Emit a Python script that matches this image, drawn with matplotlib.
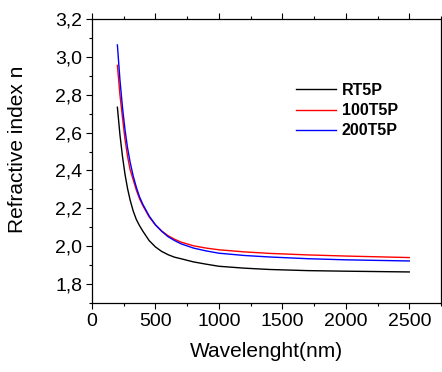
import matplotlib
matplotlib.use("Agg")
import matplotlib.pyplot as plt
from matplotlib.ticker import MultipleLocator, FuncFormatter

wavelength = [200, 220, 240, 260, 280, 300, 325, 350, 375, 400, 450, 500, 550, 600,
              650, 700, 800, 900, 1000, 1200, 1400, 1700, 2000, 2250, 2500]
n_rt5p = [2.734, 2.59, 2.475, 2.38, 2.305, 2.245, 2.185, 2.14, 2.108, 2.08, 2.03, 1.996,
          1.972, 1.955, 1.942, 1.934, 1.917, 1.905, 1.894, 1.884, 1.877, 1.871, 1.868,
          1.866, 1.864]
n_100t5p = [2.955, 2.80, 2.68, 2.565, 2.475, 2.405, 2.35, 2.295, 2.25, 2.215, 2.155, 2.112,
            2.08, 2.055, 2.037, 2.022, 2.002, 1.99, 1.981, 1.97, 1.962, 1.954, 1.948,
            1.944, 1.940]
n_200t5p = [3.063, 2.88, 2.735, 2.615, 2.52, 2.445, 2.37, 2.31, 2.26, 2.222, 2.16, 2.113,
            2.078, 2.05, 2.03, 2.013, 1.99, 1.975, 1.963, 1.951, 1.943, 1.934, 1.928,
            1.925, 1.922]
series_names = ["RT5P", "100T5P", "200T5P"]
series_colors = ["black", "red", "blue"]

plt.rcParams['font.family'] = ['Liberation Sans', 'DejaVu Sans']

fig = plt.figure(figsize=(4.42, 3.72), dpi=100)
ax = fig.add_axes([92/442, 69/372, 349/442, 284/372])

for vals, name, col in zip([n_rt5p, n_100t5p, n_200t5p], series_names, series_colors):
    ax.plot(wavelength, vals, color=col, lw=1.0, label=name)

ax.set_xlim(0, 2750)
ax.set_ylim(1.7, 3.2)
ax.xaxis.set_major_locator(MultipleLocator(500))
ax.xaxis.set_minor_locator(MultipleLocator(250))
ax.yaxis.set_major_locator(MultipleLocator(0.2))
ax.yaxis.set_minor_locator(MultipleLocator(0.1))
ax.yaxis.set_major_formatter(FuncFormatter(lambda v, p: f"{v:.1f}".replace('.', ',')))

ax.tick_params(which='both', direction='out', top=True, right=True, width=0.8,
               labelsize=14, pad=3)
ax.tick_params(which='major', length=4)
ax.tick_params(which='minor', length=2.5)
for s in ax.spines.values():
    s.set_linewidth(0.9)

ax.set_xlabel("Wavelenght(nm)", fontsize=15)
ax.set_ylabel("Refractive index n", fontsize=15)
ax.xaxis.set_label_coords(0.5, -0.138)
ax.yaxis.set_label_coords(-0.185, 0.54)

leg = ax.legend(loc='upper left', bbox_to_anchor=(0.585, 0.775), frameon=False,
                prop={'weight': 'bold', 'size': 11.5}, handlelength=2.5,
                handletextpad=0.35, borderpad=0, borderaxespad=0, labelspacing=0.33)

fig.savefig("out.png", dpi=100)
